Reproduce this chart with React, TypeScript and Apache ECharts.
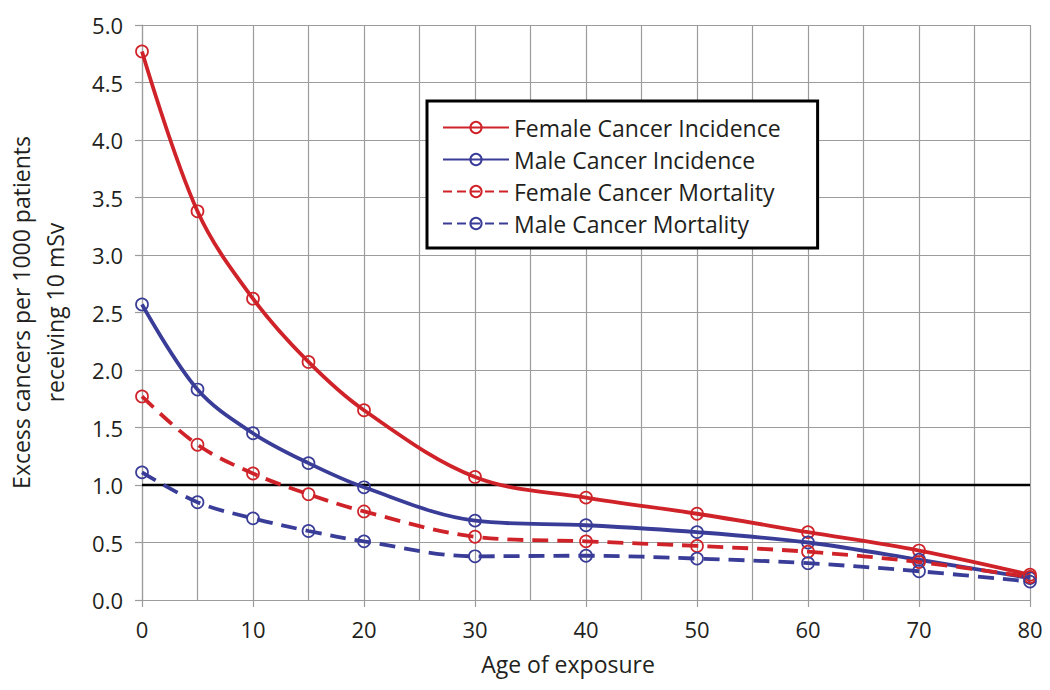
import React, { useEffect, useRef } from "react";
import * as echarts from "echarts";

const ages = [0, 5, 10, 15, 20, 30, 40, 50, 60, 70, 80];
const femaleIncidence = [4.77, 3.38, 2.62, 2.07, 1.65, 1.07, 0.89, 0.75, 0.59, 0.43, 0.22];
const maleIncidence = [2.57, 1.83, 1.45, 1.19, 0.98, 0.69, 0.65, 0.59, 0.5, 0.35, 0.19];
const femaleMortality = [1.77, 1.35, 1.1, 0.92, 0.77, 0.55, 0.51, 0.47, 0.42, 0.33, 0.2];
const maleMortality = [1.11, 0.85, 0.71, 0.6, 0.51, 0.38, 0.385, 0.36, 0.32, 0.25, 0.16];
const referenceLevel = 1.0;
const seriesNames = [
  "Female Cancer Incidence",
  "Male Cancer Incidence",
  "Female Cancer Mortality",
  "Male Cancer Mortality",
];

const RED = "#cf2329";
const BLUE = "#3a3d98";
const TEXT = "#231f20";
const GRID = "#9c9c9c";
const FONT = "'Open Sans', sans-serif";

function makeSeries(name: string, values: number[], color: string, dashed: boolean) {
  return {
    name,
    type: "line",
    data: ages.map((a, i) => [a, values[i]]),
    smooth: 0.35,
    symbol: "circle",
    symbolSize: 12,
    z: 3,
    lineStyle: { color, width: 3.8, type: dashed ? [16, 9] : "solid" },
    itemStyle: { color: "rgba(255,255,255,0)", borderColor: color, borderWidth: 1.7 },
  };
}

export default function App() {
  const ref = useRef<HTMLDivElement>(null);
  useEffect(() => {
    if (!ref.current) return;
    const chart = echarts.init(ref.current, null, { renderer: "svg" });
    chart.setOption({
      animation: false,
      backgroundColor: "#ffffff",
      textStyle: { fontFamily: FONT, color: TEXT },
      grid: {
        left: 142,
        right: 20,
        top: 25,
        bottom: 90,
        containLabel: false,
        outerBoundsMode: "none",
      },
      legend: {
        data: seriesNames.map((n, i) => ({
          name: n,
          lineStyle: i >= 2 ? { type: [9, 5] } : undefined,
        })),
        orient: "vertical",
        left: 427,
        top: 101,
        backgroundColor: "#ffffff",
        borderColor: "#000000",
        borderWidth: 3,
        padding: [15, 37, 13, 15],
        itemWidth: 66,
        itemHeight: 14,
        itemGap: 9,
        textStyle: { fontSize: 23, color: TEXT, fontFamily: FONT },
      },
      xAxis: {
        type: "value",
        min: 0,
        max: 80,
        interval: 10,
        name: "Age of exposure",
        nameLocation: "middle",
        nameGap: 52,
        nameTextStyle: { fontSize: 23, color: TEXT, padding: [0, 36, 0, 0] },
        axisLine: { show: true, lineStyle: { color: GRID, width: 1.2 } },
        axisTick: { show: true, length: 7, lineStyle: { color: GRID, width: 1.2 } },
        axisLabel: { fontSize: 22, color: TEXT, margin: 18 },
        splitLine: { show: true, lineStyle: { color: GRID, width: 1.2 } },
        minorTick: { show: false, splitNumber: 2 },
        minorSplitLine: { show: true, lineStyle: { color: GRID, width: 1.2 } },
      },
      yAxis: {
        type: "value",
        min: 0,
        max: 5,
        interval: 0.5,
        name: "Excess cancers per 1000 patients\nreceiving 10 mSv",
        nameLocation: "middle",
        nameGap: 70,
        nameTextStyle: { fontSize: 23, color: TEXT, lineHeight: 34 },
        axisLine: { show: true, lineStyle: { color: GRID, width: 1.2 } },
        axisTick: { show: true, length: 7, lineStyle: { color: GRID, width: 1.2 } },
        axisLabel: { fontSize: 22, color: TEXT, margin: 19, formatter: (v: number) => v.toFixed(1) },
        splitLine: { show: true, lineStyle: { color: GRID, width: 1.2 } },
      },
      series: [
        {
          name: "reference",
          type: "line",
          data: [[0, referenceLevel], [80, referenceLevel]],
          symbol: "none",
          z: 2,
          lineStyle: { color: "#000000", width: 2.4 },
          silent: true,
        },
        makeSeries(seriesNames[0], femaleIncidence, RED, false),
        makeSeries(seriesNames[1], maleIncidence, BLUE, false),
        makeSeries(seriesNames[2], femaleMortality, RED, true),
        makeSeries(seriesNames[3], maleMortality, BLUE, true),
      ],
    });
    return () => chart.dispose();
  }, []);
  return (
    <div
      ref={ref}
      style={{ position: "fixed", left: 0, top: 0, width: 1050, height: 690 }}
    />
  );
}
